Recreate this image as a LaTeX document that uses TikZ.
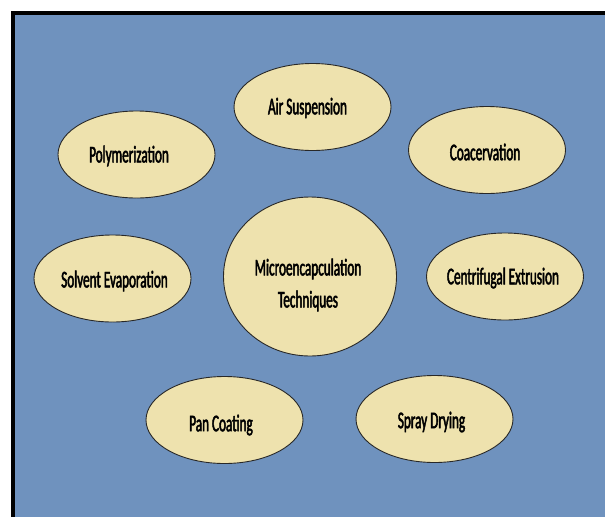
\documentclass[tikz,border=0pt]{standalone}
\usepackage{fontspec}
\newfontfamily\cf[FakeStretch=0.55,FakeBold=2]{Carlito}
\usetikzlibrary{shapes.geometric}
\definecolor{bgblue}{RGB}{111,146,190}
\definecolor{bubfill}{RGB}{238,226,174}
\definecolor{bubline}{RGB}{40,40,40}
\tikzset{
  bub/.style={ellipse,draw=bubline,fill=bubfill,line width=0.9pt,inner sep=0pt,minimum width=157pt,minimum height=87pt},
  txt/.style={align=center,inner sep=0pt,font=\cf\fontsize{24}{32}\selectfont,text=black}
}
\begin{document}
\begin{tikzpicture}[x=1pt,y=-1pt]
\useasboundingbox (0,0) rectangle (605,517);
\fill[white] (0,0) rectangle (605,517);
\fill[black] (11,11) rectangle (605,517);
\fill[bgblue] (15,15) rectangle (605,517);
% centre
\node[bub,minimum width=173pt,minimum height=159pt] (c) at (310,276.5) {};
\node[txt] (ct) at (308,285) {Microencapculation\\Techniques};
% satellites
\node[bub] (air) at (312.5,107) {};
\node[txt] (airt) at (307.5,108) {Air Suspension};
\node[bub] (poly) at (136.5,154.5) {};
\node[txt] (polyt) at (129,156) {Polymerization};
\node[bub] (coa) at (487,150) {};
\node[txt] (coat) at (485,152) {Coacervation};
\node[bub] (solv) at (112.5,278.5) {};
\node[txt] (solvt) at (114.5,281) {Solvent Evaporation};
\node[bub] (cent) at (505,276.5) {};
\node[txt] (centt) at (503,278) {Centrifugal Extrusion};
\node[bub] (pan) at (224.5,420) {};
\node[txt] (pant) at (221,425) {Pan Coating};
\node[bub] (spray) at (434.5,419) {};
\node[txt] (sprayt) at (431.5,422) {Spray Drying};
\end{tikzpicture}
\end{document}
